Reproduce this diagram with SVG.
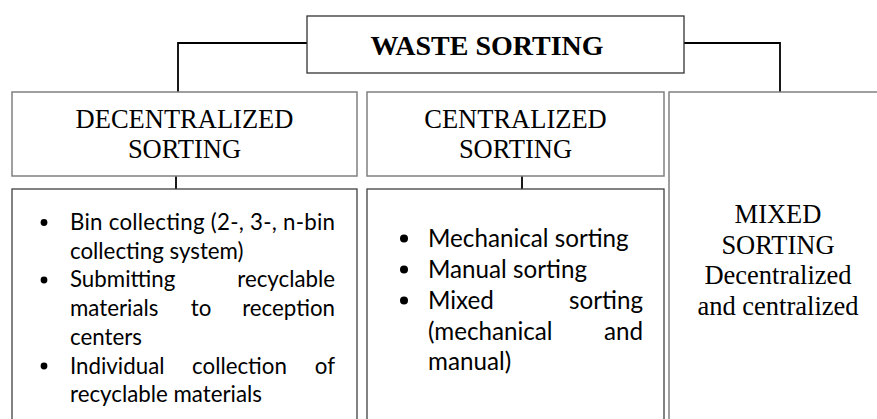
<svg xmlns="http://www.w3.org/2000/svg" width="877" height="419" viewBox="0 0 877 419">
<style>
  .bg { fill: #ffffff; }
  .top { fill: #ffffff; stroke: #333333; stroke-width: 1.3; }
  .cat { fill: #ffffff; stroke: #808080; stroke-width: 1.5; }
  .list { fill: #ffffff; stroke: #404040; stroke-width: 1.3; }
  .conn { fill: none; stroke: #000000; stroke-width: 1.8; }
  .serif { font-family: "Liberation Serif", "Times New Roman", serif; font-size: 26.5px; fill: #000000; }
  .title { font-family: "Liberation Serif", "Times New Roman", serif; font-size: 28px; font-weight: bold; fill: #000000; }
  .sm { font-family: Lato, "Noto Sans", sans-serif; font-size: 22.3px; fill: #000000; }
  .md { font-family: Lato, "Noto Sans", sans-serif; font-size: 24.2px; fill: #000000; }
  .dot { fill: #000000; }
</style>
<rect class="bg" x="0" y="0" width="877" height="419"/>

<g id="connectors">
  <path class="conn" d="M307,43 H178 V92"/>
  <path class="conn" d="M684,43 H780 V92"/>
  <path class="conn" d="M176,176 V189"/>
  <path class="conn" d="M522,176 V189"/>
</g>

<g id="waste-sorting">
  <rect class="top" x="307" y="16" width="377" height="57"/>
  <text class="title" x="487" y="55" text-anchor="middle">WASTE SORTING</text>
</g>

<g id="decentralized-sorting">
  <rect class="cat" x="12" y="92" width="345" height="84"/>
  <text class="serif" x="184.5" y="128" text-anchor="middle">DECENTRALIZED</text>
  <text class="serif" x="184.5" y="158" text-anchor="middle">SORTING</text>
</g>

<g id="centralized-sorting">
  <rect class="cat" x="367" y="92" width="297" height="84"/>
  <text class="serif" x="515.5" y="128" text-anchor="middle">CENTRALIZED</text>
  <text class="serif" x="515.5" y="158" text-anchor="middle">SORTING</text>
</g>

<g id="mixed-sorting">
  <rect class="cat" x="669" y="92" width="230" height="340"/>
  <text class="serif" x="778" y="223" text-anchor="middle">MIXED</text>
  <text class="serif" x="778" y="253.5" text-anchor="middle">SORTING</text>
  <text class="serif" x="778" y="284" text-anchor="middle">Decentralized</text>
  <text class="serif" x="778" y="314.5" text-anchor="middle">and centralized</text>
</g>

<g id="decentralized-list">
  <rect class="list" x="12" y="189" width="345" height="240"/>
  <circle class="dot" cx="44" cy="222.5" r="3.4"/>
  <circle class="dot" cx="44" cy="280" r="3.4"/>
  <circle class="dot" cx="44" cy="366" r="3.4"/>
  <text class="sm" x="70" y="230" textLength="265" lengthAdjust="spacing">Bin collecting (2-, 3-, n-bin</text>
  <text class="sm" x="70" y="258.7">collecting system)</text>
  <text class="sm" x="70" y="287.4">Submitting</text>
  <text class="sm" x="335" y="287.4" text-anchor="end">recyclable</text>
  <text class="sm" x="70" y="316">materials</text>
  <text class="sm" x="201" y="316" text-anchor="middle">to</text>
  <text class="sm" x="335" y="316" text-anchor="end">reception</text>
  <text class="sm" x="70" y="344.8">centers</text>
  <text class="sm" x="70" y="373.5">Individual</text>
  <text class="sm" x="239.5" y="373.5" text-anchor="middle">collection</text>
  <text class="sm" x="335" y="373.5" text-anchor="end">of</text>
  <text class="sm" x="70" y="402.2">recyclable materials</text>
</g>

<g id="centralized-list">
  <rect class="list" x="367" y="189" width="297" height="240"/>
  <circle class="dot" cx="404" cy="238.5" r="4"/>
  <circle class="dot" cx="404" cy="269.5" r="4"/>
  <circle class="dot" cx="404" cy="300.5" r="4"/>
  <text class="md" x="428" y="247">Mechanical sorting</text>
  <text class="md" x="428" y="278">Manual sorting</text>
  <text class="md" x="428" y="309">Mixed</text>
  <text class="md" x="643" y="309" text-anchor="end">sorting</text>
  <text class="md" x="428" y="339.5">(mechanical</text>
  <text class="md" x="643" y="339.5" text-anchor="end">and</text>
  <text class="md" x="428" y="370">manual)</text>
</g>
</svg>
